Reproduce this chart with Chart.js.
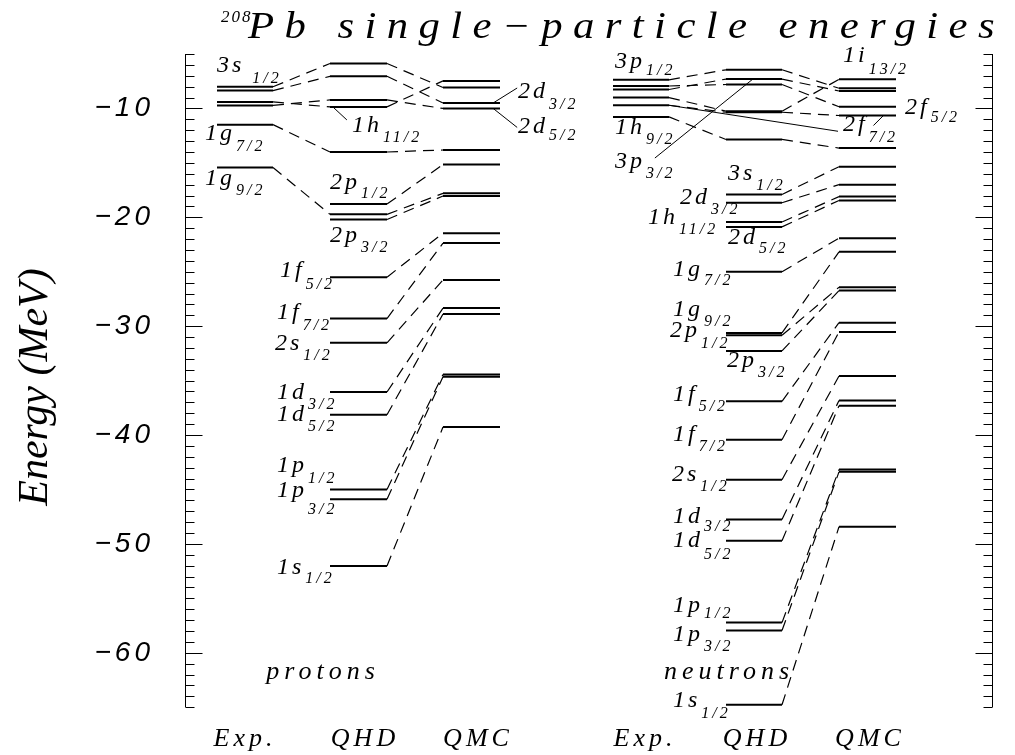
<!DOCTYPE html>
<html>
<head>
<meta charset="utf-8">
<script src="https://cdn.jsdelivr.net/npm/chart.js@4.4.1/dist/chart.umd.min.js"></script>
<style>
  html, body { margin: 0; padding: 0; background: #fff; }
  canvas { display: block; }
</style>
</head>
<body>
<canvas id="levels" width="1015" height="755"></canvas>
<script>
// ---- data (MeV) ----
const protonNames = ['3s1/2', '2d3/2', '2d5/2', '1h11/2', '1g7/2', '1g9/2', '2p1/2', '2p3/2',
    '1f5/2', '1f7/2', '2s1/2', '1d3/2', '1d5/2', '1p1/2', '1p3/2', '1s1/2'];
const protonExp = [-8.01, -8.36, -9.72, -9.40, -11.49, -15.43];
const protonQHD = [-5.87, -7.05, -9.22, -9.86, -14.0, -19.73, -18.78, -20.2,
    -25.5, -29.3, -31.53, -36.05, -38.14, -45.0, -45.9, -52.03];
const protonQMC = [-8.08, -9.5, -10.0, -7.47, -13.82, -17.8, -15.16, -18.05,
    -21.46, -22.37, -25.75, -28.34, -28.89, -34.43, -34.64, -39.27];

const neutronNames = ['3p1/2', '2f5/2', '3p3/2', '1i13/2', '2f7/2', '1h9/2', '3s1/2', '2d3/2',
    '1h11/2', '2d5/2', '1g7/2', '1g9/2', '2p1/2', '2p3/2', '1f5/2', '1f7/2', '2s1/2',
    '1d3/2', '1d5/2', '1p1/2', '1p3/2', '1s1/2'];
const neutronExp = [-7.37, -7.94, -8.26, -9.00, -9.71, -10.78];
const neutronQHD = [-6.45, -7.8, -7.3, -10.25, -10.35, -12.85, -17.9, -18.66,
    -20.43, -20.88, -25.0, -30.62, -30.84, -32.27, -36.9, -40.43, -44.1,
    -47.76, -49.71, -57.23, -57.96, -64.78];
const neutronQMC = [-8.15, -9.85, -8.4, -7.33, -10.65, -13.64, -15.35, -17.0,
    -18.1, -18.45, -21.92, -23.17, -26.42, -26.73, -29.68, -30.53, -34.58,
    -36.83, -37.32, -43.17, -43.38, -48.43];

const yTicks = [-60, -50, -40, -30, -20, -10];
const columnTitles = ['Exp.', 'QHD', 'QMC', 'Exp.', 'QHD', 'QMC'];

// ---- layout (x axis units = px from the left frame) ----
const columnCenters = [60, 180, 293, 460, 572, 685];
const protonCols = { exp: [32, 88], qhd: [145, 202], qmc: [258, 315] };
const neutronCols = { exp: [428, 484], qhd: [541, 597], qmc: [654, 711] };

// label placement: column, base text offset from column left / level, subscript offset
const protonPlace = {
    '3s1/2': { col: 'exp', dx: 0, dy: -15, sdy: 11, gap: 8 },
    '2d3/2': { col: 'qmc', dx: 75, dy: -5, sdy: 11, leaders: [{ col: 'qmc', frac: 0.88, dx: 24, dy: -15 }] },
    '2d5/2': { col: 'qmc', dx: 75, dy: 25, sdy: 7, leaders: [{ col: 'qmc', frac: 0.88, dx: 24, dy: 19 }] },
    '1h11/2': { col: 'qhd', dx: 22, dy: 25, sdy: 10, leaders: [{ col: 'qhd', frac: 0.05, dx: 14, dy: 13 }] },
    '1g7/2': { col: 'exp', dx: -12, dy: 15, sdy: 11 },
    '1g9/2': { col: 'exp', dx: -12, dy: 17, sdy: 10 },
    '2p1/2': { col: 'qhd', dx: 0, dy: -15, sdy: 9 },
    '2p3/2': { col: 'qhd', dx: 0, dy: 23, sdy: 10 },
    '1f5/2': { col: 'qhd', dx: -50, dy: 0, sdy: 12 },
    '1f7/2': { col: 'qhd', dx: -53, dy: 0, sdy: 11 },
    '2s1/2': { col: 'qhd', dx: -55, dy: 7, sdy: 10 },
    '1d3/2': { col: 'qhd', dx: -53, dy: 7, sdy: 10 },
    '1d5/2': { col: 'qhd', dx: -53, dy: 6, sdy: 10 },
    '1p1/2': { col: 'qhd', dx: -53, dy: -17, sdy: 11 },
    '1p3/2': { col: 'qhd', dx: -53, dy: -2, sdy: 17 },
    '1s1/2': { col: 'qhd', dx: -53, dy: 8, sdy: 9 }
};
const neutronPlace = {
    '3p1/2': { col: 'exp', dx: 2, dy: -12, sdy: 7 },
    '1h9/2': { col: 'exp', dx: 2, dy: 17, sdy: 10 },
    '3p3/2': { col: 'exp', dx: 2, dy: 79, sdy: 10, leaders: [{ col: 'qhd', frac: 0.48, dx: -98, dy: 79 }] },
    '1i13/2': { col: 'qmc', dx: 4, dy: -17, sdy: 12 },
    '2f5/2': { col: 'qmc', dx: 66, dy: 7, sdy: 8 },
    '2f7/2': { col: 'qmc', dx: 4, dy: 15, sdy: 11,
        leaders: [{ col: 'qmc', frac: 0.78, dx: -10, dy: 10 }, { col: 'exp', frac: 1, dx: 169, dy: 26 }] },
    '3s1/2': { col: 'qhd', dx: 2, dy: -14, sdy: 10 },
    '2d3/2': { col: 'qhd', dx: -46, dy: 1, sdy: 10 },
    '1h11/2': { col: 'qhd', dx: -78, dy: 2, sdy: 10 },
    '2d5/2': { col: 'qhd', dx: 2, dy: 17, sdy: 9 },
    '1g7/2': { col: 'qhd', dx: -53, dy: 4, sdy: 9 },
    '1g9/2': { col: 'qhd', dx: -53, dy: -17, sdy: 10 },
    '2p1/2': { col: 'qhd', dx: -56, dy: 2, sdy: 11 },
    '2p3/2': { col: 'qhd', dx: 1, dy: 16, sdy: 10 },
    '1f5/2': { col: 'qhd', dx: -53, dy: 0, sdy: 10 },
    '1f7/2': { col: 'qhd', dx: -53, dy: 1, sdy: 10 },
    '2s1/2': { col: 'qhd', dx: -54, dy: 1, sdy: 10 },
    '1d3/2': { col: 'qhd', dx: -53, dy: 3, sdy: 8 },
    '1d5/2': { col: 'qhd', dx: -53, dy: 6, sdy: 12 },
    '1p1/2': { col: 'qhd', dx: -53, dy: -11, sdy: 6 },
    '1p3/2': { col: 'qhd', dx: -53, dy: 10, sdy: 10 },
    '1s1/2': { col: 'qhd', dx: -53, dy: 2, sdy: 11 }
};

const panels = [
    { names: protonNames, exp: protonExp, qhd: protonQHD, qmc: protonQMC, cols: protonCols, place: protonPlace, tag: 'protons', tagX: 138 },
    { names: neutronNames, exp: neutronExp, qhd: neutronQHD, qmc: neutronQMC, cols: neutronCols, place: neutronPlace, tag: 'neutrons', tagX: 544 }
];

// build one small line dataset per level and per connector
const datasets = [];
function seg(x1, y1, x2, y2, dashed) {
    datasets.push({
        data: [{ x: x1, y: y1 }, { x: x2, y: y2 }],
        showLine: true,
        borderColor: '#000',
        borderWidth: dashed ? 1.2 : 2,
        borderDash: dashed ? [11, 7] : [],
        pointRadius: 0,
        tension: 0
    });
}
panels.forEach(p => {
    p.names.forEach((n, i) => {
        const e = p.exp[i];
        if (e !== undefined) {
            seg(p.cols.exp[0], e, p.cols.exp[1], e, false);
            seg(p.cols.exp[1], e, p.cols.qhd[0], p.qhd[i], true);
        }
        seg(p.cols.qhd[0], p.qhd[i], p.cols.qhd[1], p.qhd[i], false);
        seg(p.cols.qhd[1], p.qhd[i], p.cols.qmc[0], p.qmc[i], true);
        seg(p.cols.qmc[0], p.qmc[i], p.cols.qmc[1], p.qmc[i], false);
    });
});

const SERIF = '"Liberation Serif", "DejaVu Serif", serif';
const SANS = '"Liberation Sans", "DejaVu Sans", sans-serif';

// frame with inward ticks on both sides, level labels and titles
const framePlugin = {
    id: 'frame',
    beforeDraw(chart) {
        chart.ctx.letterSpacing = '4px';
    },
    beforeDatasetsDraw(chart) {
        const ctx = chart.ctx, ys = chart.scales.y, a = chart.chartArea;
        ctx.letterSpacing = '0px';
        ctx.save();
        ctx.strokeStyle = '#000';
        ctx.lineWidth = 1;
        ctx.beginPath();
        [a.left, a.right].forEach((x, k) => {
            const xx = Math.round(x) + 0.5, dir = k ? -1 : 1;
            ctx.moveTo(xx, a.top);
            ctx.lineTo(xx, a.bottom);
            for (let v = -65; v <= -5; v++) {
                const yy = Math.round(ys.getPixelForValue(v)) + 0.5;
                const len = v % 10 === 0 ? 17 : 9;
                ctx.moveTo(xx, yy);
                ctx.lineTo(xx + dir * len, yy);
            }
        });
        ctx.stroke();
        ctx.restore();
    },
    afterDatasetsDraw(chart) {
        const ctx = chart.ctx, xs = chart.scales.x, ys = chart.scales.y;
        ctx.save();
        ctx.fillStyle = '#000';
        ctx.strokeStyle = '#000';
        ctx.textBaseline = 'alphabetic';
        ctx.textAlign = 'left';
        panels.forEach(p => {
            const valueIn = (col, i) => col === 'exp' ? p.exp[i] : (col === 'qhd' ? p.qhd[i] : p.qmc[i]);
            p.names.forEach((n, i) => {
                const pl = p.place[n];
                if (!pl) return;
                const x0 = xs.getPixelForValue(p.cols[pl.col][0]);
                const y0 = ys.getPixelForValue(valueIn(pl.col, i));
                const base = n.slice(0, 2), sub = n.slice(2);
                ctx.font = 'italic 24px ' + SERIF;
                ctx.letterSpacing = '3px';
                const bx = x0 + pl.dx, by = y0 + pl.dy;
                ctx.fillText(base, bx, by);
                const bw = ctx.measureText(base).width;
                ctx.font = 'italic 16px ' + SERIF;
                ctx.letterSpacing = '3px';
                ctx.fillText(sub, bx + bw + (pl.gap || 1), by + pl.sdy);
                (pl.leaders || []).forEach(l => {
                    const c = p.cols[l.col];
                    const lx = xs.getPixelForValue(c[0] + l.frac * (c[1] - c[0]));
                    const ly = ys.getPixelForValue(valueIn(l.col, i));
                    ctx.lineWidth = 1;
                    ctx.beginPath();
                    ctx.moveTo(lx, ly);
                    ctx.lineTo(lx + l.dx, ly + l.dy);
                    ctx.stroke();
                });
            });
            ctx.font = 'italic 26px ' + SERIF;
            ctx.letterSpacing = '5px';
            ctx.textAlign = 'center';
            ctx.fillText(p.tag, xs.getPixelForValue(p.tagX), 679);
            ctx.textAlign = 'left';
        });

        // title: wide italic lettering stretched to the reference span
        ctx.letterSpacing = '2px';
        ctx.font = 'italic 17px ' + SERIF;
        ctx.fillText('208', 221, 22);
        const title = 'Pb single\u2212particle energies';
        ctx.font = 'italic 37px ' + SERIF;
        ctx.letterSpacing = '9px';
        const w = ctx.measureText(title).width;
        ctx.save();
        ctx.translate(248, 38);
        ctx.scale(757 / w, 1);
        ctx.fillText(title, 0, 0);
        ctx.restore();

        // y axis title
        ctx.letterSpacing = '0px';
        ctx.font = 'italic 42px ' + SERIF;
        ctx.translate(47, 387);
        ctx.rotate(-Math.PI / 2);
        ctx.textAlign = 'center';
        ctx.fillText('Energy (MeV)', 0, 0);
        ctx.restore();
    }
};

new Chart(document.getElementById('levels'), {
    type: 'scatter',
    data: { datasets: datasets },
    options: {
        responsive: false,
        animation: false,
        events: [],
        layout: { padding: { top: 54, right: 23, bottom: 0, left: 0 } },
        scales: {
            x: {
                type: 'linear',
                min: 0,
                max: 807,
                grid: { display: false, drawTicks: false },
                border: { display: false },
                afterBuildTicks: scale => { scale.ticks = columnCenters.map(v => ({ value: v })); },
                afterFit: scale => { scale.height = 45; },
                ticks: {
                    autoSkip: false,
                    maxRotation: 0,
                    padding: 16,
                    color: '#000',
                    font: { family: SERIF, size: 26, style: 'italic' },
                    callback: (v, i) => columnTitles[i]
                }
            },
            y: {
                type: 'linear',
                min: -65,
                max: -5,
                grid: { display: false, drawTicks: false },
                border: { display: false },
                afterBuildTicks: scale => { scale.ticks = yTicks.map(v => ({ value: v })); },
                afterFit: scale => { scale.width = 185; },
                ticks: {
                    padding: 31,
                    color: '#000',
                    font: { family: SANS, size: 28, style: 'italic' },
                    callback: v => '\u2212' + Math.abs(v)
                }
            }
        },
        plugins: {
            legend: { display: false },
            tooltip: { enabled: false }
        }
    },
    plugins: [framePlugin]
});
</script>
</body>
</html>
